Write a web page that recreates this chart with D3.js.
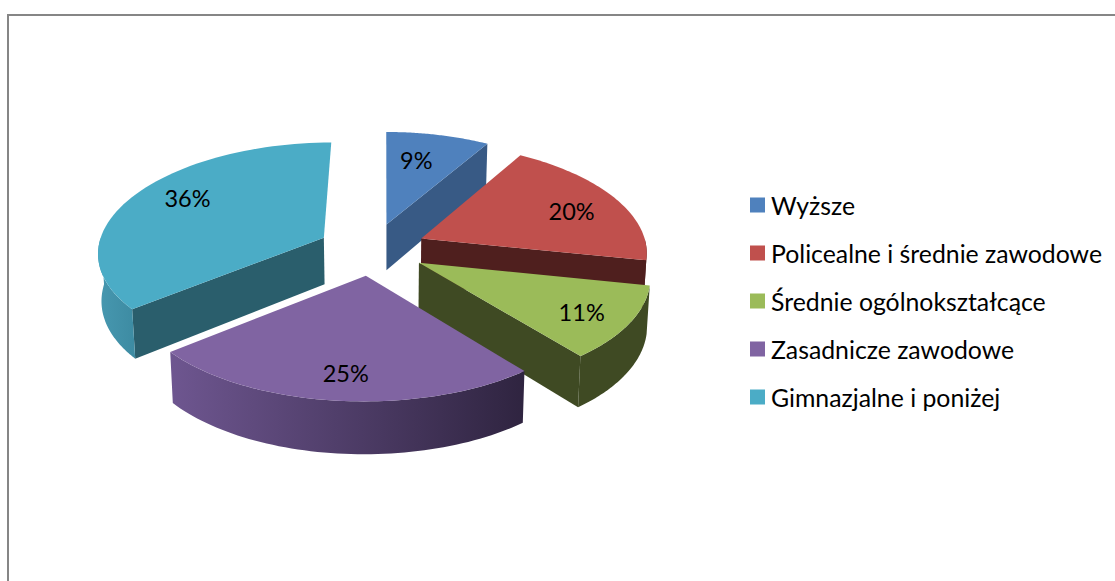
<!DOCTYPE html>
<meta charset="utf-8">
<style>
  html, body { margin: 0; background: #fff; }
  text { font-family: Lato, sans-serif; fill: #000; }
</style>
<svg id="mainsvg" width="1115" height="581"></svg>
<script src="https://d3js.org/d3.v7.min.js"></script>
<script>
const categories = ["Wyższe", "Policealne i średnie zawodowe", "Średnie ogólnokształcące", "Zasadnicze zawodowe", "Gimnazjalne i poniżej"]
// the labels show them rounded
const shares = [8.6, 19.6, 10.9, 25.1, 35.8]
const topColors = ["#4f81bd", "#c0504d", "#9bbb59", "#8064a2", "#4bacc6"]
const sideColors = ["#385a85", "#4f1f1e", "#3f4a23", "#4a3760", "#2a5e6c"]

const cx = 372, cy = 249, vx = 385
const rx = 226, ry = 109, kx = 0.12, ky = 0.104
const explode = 0.24, depth = 47
// where each percent label sits: share of the radius, angle nudge in degrees
const labelR = [0.69, 0.75, 0.79, 0.79, 0.76]
const labelNudge = [-3, 3, 1, -0.7, 5]

const svg = d3.select("#mainsvg")

svg.append("path")
  .attr("d", "M8,581V15H1115")
  .attr("fill", "none")
  .attr("stroke", "#868686")
  .attr("stroke-width", 2)

// ground plane -> screen, z is distance below the top face
function project(u, v, z) {
  const s = 1 + kx * v, t = 1 + ky * v
  const fade = 1 - 0.012 * z / depth
  return [vx + (cx - vx + rx * u) * s * fade, cy + ry * v * t + z * (1 + 0.1 * v)]
}

function pointAt(d, a, r, z) {
  const m = (d.startAngle + d.endAngle) / 2
  const u = explode * Math.sin(m) + r * Math.sin(a)
  const v = -explode * Math.cos(m) - r * Math.cos(a)
  return project(u, v, z)
}

const pie = d3.pie().sort(null).value(d => d)
const slices = pie(shares)
const line = d3.line()

function rim(d, a0, a1, z) {
  return d3.range(0, 61).map(i => pointAt(d, a0 + (a1 - a0) * i / 60, 1, z))
}

const defs = svg.append("defs")
const purple = defs.append("linearGradient").attr("id", "wall3")
purple.append("stop").attr("offset", 0).attr("stop-color", "#6e5690")
purple.append("stop").attr("offset", 1).attr("stop-color", "#2f2440")
const teal = defs.append("linearGradient").attr("id", "wall4")
teal.append("stop").attr("offset", 0).attr("stop-color", "#4798b0")
teal.append("stop").attr("offset", 1).attr("stop-color", "#3d8ba2")

const drawOrder = [0, 4, 1, 2, 3]
const g = svg.selectAll("g.slice")
  .data(drawOrder)
  .enter().append("g")
  .attr("class", "slice")

g.each(function(i) {
  const d = slices[i]
  const el = d3.select(this)
  const a0 = d.startAngle, a1 = d.endAngle

  const radial = a => [pointAt(d, 0, 0, 0), pointAt(d, a, 1, 0), pointAt(d, a, 1, depth), pointAt(d, 0, 0, depth)]
  if (Math.sin(a0) < 0) el.append("path").attr("d", line(radial(a0)) + "Z").attr("fill", sideColors[i])
  if (Math.sin(a1) > 0) el.append("path").attr("d", line(radial(a1)) + "Z").attr("fill", sideColors[i])

  // outer wall, front half only
  const w0 = Math.max(a0, Math.PI / 2), w1 = Math.min(a1, Math.PI * 1.5)
  if (w1 > w0) {
    const wall = rim(d, w0, w1, 0).concat(rim(d, w1, w0, depth))
    const fill = i === 3 ? "url(#wall3)" : i === 4 ? "url(#wall4)" : sideColors[i]
    el.append("path").attr("d", line(wall) + "Z").attr("fill", fill)
  }

  const top = [pointAt(d, 0, 0, 0)].concat(rim(d, a0, a1, 0))
  el.append("path").attr("d", line(top) + "Z").attr("fill", topColors[i])
})

svg.selectAll("text.pct")
  .data(slices)
  .enter().append("text")
  .attr("class", "pct")
  .attr("text-anchor", "middle")
  .attr("dominant-baseline", "central")
  .attr("font-size", 23.5)
  .attr("transform", (d, i) => {
    const m = (d.startAngle + d.endAngle) / 2 + labelNudge[i] * Math.PI / 180
    return "translate(" + pointAt(d, m, labelR[i], 0) + ")"
  })
  .text(d => Math.round(d.data) + "%")

const legendY = d3.scalePoint().domain(categories).range([205, 397])
const legend = svg.selectAll("g.legend")
  .data(categories)
  .enter().append("g")
  .attr("class", "legend")
  .attr("transform", d => "translate(750," + legendY(d) + ")")

legend.append("rect")
  .attr("y", -7.5)
  .attr("width", 15)
  .attr("height", 15)
  .attr("fill", (d, i) => topColors[i])

legend.append("text")
  .attr("x", 21)
  .attr("dominant-baseline", "central")
  .attr("font-size", 24.8)
  .text(d => d)
</script>
